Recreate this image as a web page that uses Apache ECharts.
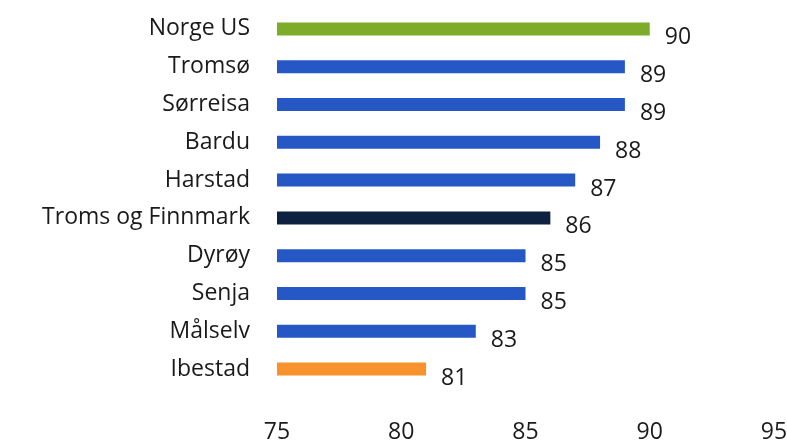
<!DOCTYPE html>
<html>
<head>
<meta charset="utf-8">
<script src="https://cdn.jsdelivr.net/npm/echarts@6/dist/echarts.min.js"></script>
<style>
  html, body { margin: 0; padding: 0; background: #fff; }
  #chart { width: 787px; height: 443px; }
</style>
</head>
<body>
<div id="chart"></div>
<script>
// =====================
// 数据
// =====================

const categories = [
  "Norge US", "Tromsø", "Sørreisa", "Bardu", "Harstad",
  "Troms og Finnmark", "Dyrøy", "Senja", "Målselv", "Ibestad",
];

const values = [90, 89, 89, 88, 87, 86, 85, 85, 83, 81];

const barColors = [
  "#7eab2a", "#2558c4", "#2558c4", "#2558c4", "#2558c4",
  "#0d2240", "#2558c4", "#2558c4", "#2558c4", "#f7922d",
];

const xTicks = [75, 80, 85, 90, 95];

const font = "'Open Sans', 'Noto Sans', sans-serif";

// =====================
// 图表
// =====================

const chart = echarts.init(document.getElementById("chart"));

chart.setOption({
  animation: false,

  grid: {
    left: 277,
    right: 13,
    top: 10,
    bottom: 55,
    outerBoundsMode: "none",
  },

  xAxis: {
    type: "value",
    min: xTicks[0],
    max: xTicks[xTicks.length - 1],
    interval: 5,
    axisLine: { show: false },
    axisTick: { show: false },
    splitLine: { show: false },
    axisLabel: {
      margin: 33,
      fontSize: 23,
      color: "#1a1a1a",
      fontFamily: font,
    },
  },

  yAxis: {
    type: "category",
    inverse: true,
    data: categories,
    axisLine: { show: false },
    axisTick: { show: false },
    axisLabel: {
      margin: 27,
      fontSize: 23,
      color: "#1a1a1a",
      fontFamily: font,
    },
  },

  series: [
    {
      type: "bar",
      barWidth: 13,
      data: values.map((v, i) => ({
        value: v,
        itemStyle: { color: barColors[i] },
      })),
      label: {
        show: true,
        position: "right",
        offset: [10, 9],
        fontSize: 23,
        color: "#1a1a1a",
        fontFamily: font,
      },
    },
  ],
});
</script>
</body>
</html>
